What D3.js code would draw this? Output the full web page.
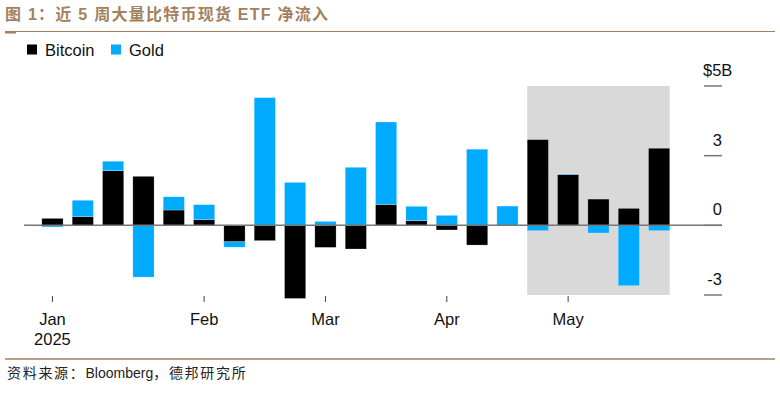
<!DOCTYPE html>
<html>
<head>
<meta charset="utf-8">
<script src="https://cdn.jsdelivr.net/npm/d3@7"></script>
<style>
  body { margin: 0; background: #fff; }
  svg { display: block; font-family: 'Liberation Sans', Arial, sans-serif; }
</style>
</head>
<body>
<div id="chart"></div>
<script>
  // weekly flows, week ending dates
  var weeks = ['2025-01-03', '2025-01-10', '2025-01-17', '2025-01-24', '2025-01-31',
    '2025-02-07', '2025-02-14', '2025-02-21', '2025-02-28', '2025-03-07',
    '2025-03-14', '2025-03-21', '2025-03-28', '2025-04-04', '2025-04-11',
    '2025-04-18', '2025-04-25', '2025-05-02', '2025-05-09', '2025-05-16', '2025-05-23'];
  var bitcoin = [0.30, 0.37, 2.35, 2.11, 0.66, 0.24, -0.71, -0.66, -3.15, -0.95,
    -1.02, 0.90, 0.20, -0.20, -0.85, 0.00, 3.69, 2.18, 1.13, 0.73, 3.32];
  var gold = [-0.07, 0.71, 0.41, -2.23, 0.57, 0.65, -0.23, 5.50, 1.85, 0.17,
    2.50, 3.55, 0.62, 0.43, 3.28, 0.83, -0.23, 0.03, -0.33, -2.60, -0.23];
  var seriesNames = ['Bitcoin', 'Gold'];
  var yTicks = [6, 3, 0, -3];
  var yTickLabels = ['$5B', '3', '0', '-3'];
  var monthNames = ['Jan', 'Feb', 'Mar', 'Apr', 'May', 'Jun', 'Jul', 'Aug', 'Sep', 'Oct', 'Nov', 'Dec'];
  var recentWeeks = 5;

  var COLORS = {
    BITCOIN: '#000000',
    GOLD: '#00aaff',
    BROWN: '#a3815f',
    AXIS: '#777777',
    SHADE: '#d9d9d9'
  };

  var width = 780;
  var height = 397;
  var labelSize = '16.5px';

  var svg = d3.select('#chart').append('svg')
    .attr('width', width)
    .attr('height', height);

  /* title */
  svg.append('text')
    .attr('x', 5)
    .attr('y', 20)
    .attr('fill', COLORS.BROWN)
    .style('font-family', "'Liberation Sans', 'Noto Sans CJK SC', sans-serif")
    .style('font-weight', 'bold')
    .style('font-size', '16px')
    .style('letter-spacing', '1.25px')
    .text('图 1：近 5 周大量比特币现货 ETF 净流入');

  svg.append('line')
    .attr('x1', 5).attr('x2', 775)
    .attr('y1', 31.5).attr('y2', 31.5)
    .attr('stroke', COLORS.BROWN)
    .attr('stroke-width', 1);
  svg.append('line')
    .attr('x1', 5).attr('x2', 16)
    .attr('y1', 32.5).attr('y2', 32.5)
    .attr('stroke', COLORS.BROWN)
    .attr('stroke-width', 2);

  /* legend */
  var legend = svg.append('g').attr('class', 'legend');
  var legendX = [27, 111];
  seriesNames.forEach(function (name, i) {
    legend.append('rect')
      .attr('x', legendX[i])
      .attr('y', 44.5)
      .attr('width', 10)
      .attr('height', 10)
      .attr('fill', i === 0 ? COLORS.BITCOIN : COLORS.GOLD);
    legend.append('text')
      .attr('x', legendX[i] + 18)
      .attr('y', 55.5)
      .style('font-size', labelSize)
      .attr('fill', '#111')
      .text(name);
  });

  /* scales */
  var x = d3.scaleBand()
    .domain(weeks)
    .range([37.3, 674.3])
    .paddingInner(0.3)
    .paddingOuter(0.15);

  var y = d3.scaleLinear()
    .domain([-3, 6])
    .range([295, 86]);

  /* shaded last weeks */
  var recent = weeks.slice(weeks.length - recentWeeks);
  svg.append('rect')
    .attr('x', x(recent[0]))
    .attr('y', y(6))
    .attr('width', x(recent[recent.length - 1]) + x.bandwidth() - x(recent[0]))
    .attr('height', y(-3) - y(6))
    .attr('fill', COLORS.SHADE);

  /* stacked bars: bitcoin next to zero, gold beyond */
  var rows = weeks.map(function (w, i) {
    var segs = [];
    var pos = 0;
    var neg = 0;
    [[bitcoin[i], COLORS.BITCOIN], [gold[i], COLORS.GOLD]].forEach(function (s) {
      var v = s[0];
      if (v >= 0) {
        segs.push({ y0: pos, y1: pos + v, color: s[1] });
        pos += v;
      } else {
        segs.push({ y0: neg + v, y1: neg, color: s[1] });
        neg += v;
      }
    });
    return { week: w, segs: segs };
  });

  var bars = svg.append('g').attr('class', 'bars');
  bars.selectAll('g')
    .data(rows)
    .enter()
    .append('g')
    .selectAll('rect')
    .data(function (d) {
      return d.segs.map(function (s) { return Object.assign({ week: d.week }, s); });
    })
    .enter()
    .append('rect')
    .attr('x', function (d) { return x(d.week); })
    .attr('width', x.bandwidth())
    .attr('y', function (d) { return y(d.y1); })
    .attr('height', function (d) { return Math.max(0, y(d.y0) - y(d.y1)); })
    .attr('fill', function (d) { return d.color; })
    .attr('stroke', 'rgba(255,255,255,0.5)')
    .attr('stroke-width', 0.5);

  /* zero line */
  svg.append('line')
    .attr('x1', 24).attr('x2', 722)
    .attr('y1', y(0)).attr('y2', y(0))
    .attr('stroke', COLORS.AXIS)
    .attr('stroke-width', 1.5);

  /* y axis on the right */
  var yAxis = svg.append('g').attr('class', 'y-axis');
  yTicks.forEach(function (t, i) {
    yAxis.append('line')
      .attr('x1', 704).attr('x2', 722)
      .attr('y1', y(t)).attr('y2', y(t))
      .attr('stroke', COLORS.AXIS)
      .attr('stroke-width', 1.5);
    yAxis.append('text')
      .attr('x', i === 0 ? 703 : 722)
      .attr('y', y(t) - 10)
      .attr('text-anchor', i === 0 ? 'start' : 'end')
      .style('font-size', labelSize)
      .attr('fill', '#111')
      .text(yTickLabels[i]);
  });

  /* x axis: tick at first week of each month */
  var parse = d3.timeParse('%Y-%m-%d');
  var monthTicks = weeks.filter(function (w, i) {
    return i === 0 || parse(w).getMonth() !== parse(weeks[i - 1]).getMonth();
  });
  var xAxis = svg.append('g').attr('class', 'x-axis');
  monthTicks.forEach(function (w, i) {
    var cx = x(w) + x.bandwidth() / 2;
    var dt = parse(w);
    xAxis.append('line')
      .attr('x1', cx).attr('x2', cx)
      .attr('y1', 296).attr('y2', 302)
      .attr('stroke', '#444')
      .attr('stroke-width', 1);
    xAxis.append('text')
      .attr('x', cx)
      .attr('y', 324.5)
      .attr('text-anchor', 'middle')
      .style('font-size', labelSize)
      .attr('fill', '#111')
      .text(monthNames[dt.getMonth()]);
    if (i === 0) {
      xAxis.append('text')
        .attr('x', cx)
        .attr('y', 344.5)
        .attr('text-anchor', 'middle')
        .style('font-size', labelSize)
        .attr('fill', '#111')
        .text(dt.getFullYear());
    }
  });

  /* footer */
  svg.append('line')
    .attr('x1', 5).attr('x2', 775)
    .attr('y1', 359).attr('y2', 359)
    .attr('stroke', COLORS.BROWN)
    .attr('stroke-width', 1.5);
  var source = svg.append('text')
    .attr('x', 7)
    .attr('y', 378)
    .style('font-family', "'Liberation Sans', 'Noto Sans CJK SC', sans-serif")
    .style('font-size', '14px')
    .attr('fill', '#222');
  source.append('tspan').style('letter-spacing', '1.7px').text('资料来源：');
  source.append('tspan').text('Bloomberg');
  source.append('tspan').style('letter-spacing', '1.7px').text('，德邦研究所');
</script>
</body>
</html>
